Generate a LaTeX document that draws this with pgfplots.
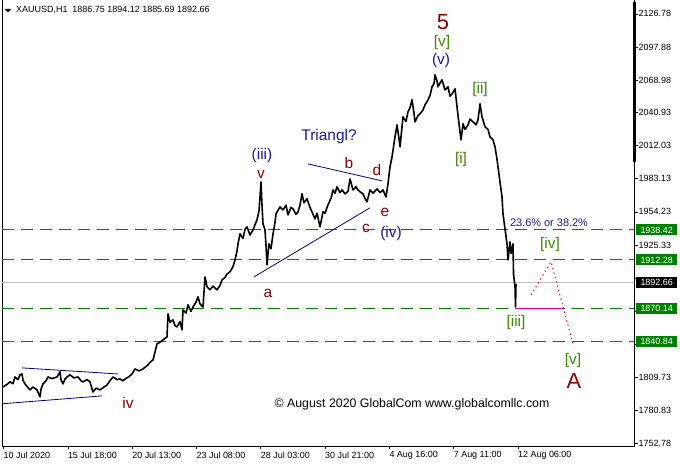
\documentclass[border=0pt]{standalone}
\usepackage{fontspec}
\setmainfont{Liberation Sans}
\usepackage{pgfplots}
\pgfplotsset{compat=1.18}

\definecolor{lvlgreen}{RGB}{0,128,0}
\definecolor{wavered}{RGB}{140,0,0}
\definecolor{wavenavy}{RGB}{25,25,150}
\definecolor{wavegreen}{RGB}{60,135,0}
\definecolor{trendblue}{RGB}{0,0,128}

\newcommand{\lab}{\fontsize{15.5}{18}\selectfont}
\newcommand{\tck}{\fontsize{9}{10}\selectfont}

% XAUUSD H1 price path (bar position, price)
\pgfplotstableread{
x y
3 1801.6
7 1803.8
10 1806.0
13 1804.5
15 1810.3
18 1808.0
20 1812.1
22 1812.9
23 1807.5
25 1804.2
28 1801.0
30 1799.0
33 1801.5
37 1799.0
40 1792.9
41 1799.5
43 1804.2
46 1807.0
48 1810.3
52 1808.8
57 1810.3
60 1814.7
61 1808.0
63 1804.2
65 1808.5
67 1810.3
70 1812.1
74 1809.5
78 1810.3
81 1807.0
83 1806.0
87 1808.0
90 1806.0
92 1800.0
93 1797.2
96 1800.5
100 1799.0
104 1801.5
107 1803.3
110 1807.0
113 1810.3
117 1808.0
120 1808.6
123 1806.9
125 1808.6
129 1810.5
132 1812.9
135 1817.3
139 1815.5
143 1817.3
148 1820.8
150 1823.0
153 1825.1
155 1832.0
157 1839.1
160 1840.5
163 1842.6
167 1845.2
168 1865.2
170 1858.0
173 1860.0
175 1855.0
177 1853.9
180 1858.5
182 1851.3
183 1868.7
186 1866.0
188 1873.1
191 1867.5
193 1871.3
196 1875.5
198 1880.1
200 1874.0
203 1871.3
205 1897.5
207 1889.0
210 1886.2
213 1889.5
217 1886.2
220 1890.0
222 1894.9
225 1897.0
227 1900.1
230 1901.9
233 1906.5
235 1912.3
237 1920.0
238 1926.3
240 1935.0
243 1931.0
245 1939.0
247 1941.1
250 1934.0
253 1938.5
255 1943.0
257 1947.2
259 1955.0
260 1967.2
261 1980.3
262 1960.0
263 1943.7
265 1938.5
266 1925.0
267 1908.0
269 1926.3
271 1922.0
273 1935.0
275 1945.0
276 1952.4
280 1958.5
283 1955.9
286 1960.0
288 1951.5
291 1958.0
293 1956.8
296 1952.0
298 1954.2
300 1960.0
302 1969.9
304 1962.0
307 1965.5
310 1958.0
312 1954.2
315 1948.1
317 1953.0
320 1941.1
323 1954.2
325 1953.0
328 1960.3
331 1966.0
333 1973.3
335 1970.5
337 1976.0
340 1971.0
342 1973.3
345 1969.9
348 1972.0
350 1982.9
353 1973.3
356 1976.0
358 1973.3
361 1971.0
363 1969.9
365 1966.0
367 1962.9
370 1973.3
373 1970.5
377 1974.2
380 1971.0
383 1973.3
386 1967.2
388 1978.6
390 1993.4
392 2002.1
395 2019.5
397 2030.0
399 2018.0
400 2010.8
403 2037.0
406 2033.0
408 2041.4
410 2045.0
412 2051.8
414 2040.0
415 2032.6
418 2038.0
420 2039.6
423 2043.0
425 2047.4
428 2051.8
430 2055.5
432 2063.1
434 2066.0
435 2073.6
437 2068.0
438 2063.1
440 2066.5
442 2069.2
445 2060.5
448 2063.1
450 2055.0
452 2057.0
455 2061.4
457 2045.7
459 2030.9
461 2016.9
463 2030.9
465 2026.0
468 2030.0
470 2035.0
473 2032.6
476 2030.0
478 2034.4
480 2048.3
482 2037.0
485 2028.3
488 2026.0
490 2019.5
493 2017.0
495 2010.8
497 2000.0
498 1993.4
500 1980.0
502 1967.2
503 1952.4
505 1939.4
507 1926.3
508 1912.3
509 1920.0
510 1928.0
511 1918.0
513 1926.3
513.5 1900.1
515 1888.8
515.5 1871.3
516 1891.4
}\price

\begin{document}
\begin{tikzpicture}[x=1bp,y=1bp]
\path[use as bounding box] (0,0) rectangle (680,470);
\begin{axis}[
  at={(2,21)}, anchor=south west,
  scale only axis, width=632bp, height=447bp,
  xmin=2, xmax=634, ymin=1750.2, ymax=2139.8,
  clip=false,
  axis line style={black, line width=0.8bp},
  tick align=outside,
  major tick length=3.5bp,
  tick style={black, line width=0.6bp},
  xtick pos=bottom, ytick pos=right,
  yticklabel pos=right,
  xtick={3.5,67.8,132.1,196.4,260.7,325,389.3,453.6,517.9},
  xticklabels={10 Jul 2020,15 Jul 18:00,20 Jul 13:00,23 Jul 08:00,28 Jul 03:00,30 Jul 21:00,4 Aug 16:00,7 Aug 11:00,12 Aug 06:00},
  xticklabel style={font=\tck, anchor=north west, inner sep=0pt, yshift=-2bp},
  ytick={1752.78,1780.83,1809.73,1838.63,1867.53,1896.43,1925.33,1954.23,1983.13,2012.03,2040.93,2068.98,2097.88,2126.78},
  yticklabels={1752.78,1780.83,1809.73,,,,1925.33,1954.23,1983.13,2012.03,2040.93,2068.98,2097.88,2126.78},
  yticklabel style={font=\tck, anchor=west, inner sep=0pt, xshift=1bp},
]
% level lines
\addplot[lightgray, line width=0.7bp, forget plot] coordinates {(2,1892.66) (634,1892.66)};
\addplot[lvlgreen, line width=1bp, dash pattern=on 12bp off 7bp] coordinates {(2,1938.42) (634,1938.42)};
\addplot[lvlgreen, line width=1bp, dash pattern=on 12bp off 7bp] coordinates {(2,1912.28) (634,1912.28)};
\addplot[lvlgreen, line width=1bp, dash pattern=on 12bp off 7bp] coordinates {(2,1870.14) (634,1870.14)};
\addplot[lvlgreen, line width=1bp, dash pattern=on 12bp off 7bp] coordinates {(2,1840.84) (634,1840.84)};
% trend lines
\addplot[trendblue, line width=0.8bp] coordinates {(22,1818.2) (118,1812.9)};
\addplot[trendblue, line width=0.8bp] coordinates {(2,1786.9) (102,1793.8)};
\addplot[trendblue, line width=0.8bp] coordinates {(308,1996.0) (382,1981.2)};
\addplot[trendblue, line width=0.8bp] coordinates {(254,1897.5) (370,1957.7)};
% price
\addplot[black, line width=1.6bp, line join=round] table[x=x,y=y] {\price};
% projection
\addplot[magenta, line width=0.9bp] coordinates {(515,1870.1) (563,1870.1)};
\addplot[red, line width=0.9bp, dash pattern=on 1.5bp off 3bp] coordinates {(531,1881.8) (551,1910.6) (573,1839.1)};
% right edge bar
\addplot[black, line width=3bp] coordinates {(634.5,2137.2) (634.5,1997.8)};

% wave labels
\node[wavered, font=\fontsize{22}{24}\selectfont] at (axis cs:443,2119.8) {5};
\node[wavegreen, font=\lab] at (axis cs:442,2101.5) {[v]};
\node[wavenavy, font=\lab] at (axis cs:441,2085.8) {(v)};
\node[wavegreen, font=\lab] at (axis cs:480,2060.5) {[ii]};
\node[wavegreen, font=\lab] at (axis cs:461,1999.5) {[i]};
\node[wavenavy, font=\lab] at (axis cs:329,2019.6) {Triangl?};
\node[wavenavy, font=\lab] at (axis cs:262,2003.0) {(iii)};
\node[wavered, font=\lab] at (axis cs:261,1986.4) {v};
\node[wavered, font=\lab] at (axis cs:349,1996.9) {b};
\node[wavered, font=\lab] at (axis cs:377,1990.8) {d};
\node[wavered, font=\lab] at (axis cs:385,1953.3) {e};
\node[wavered, font=\lab] at (axis cs:366,1939.4) {c};
\node[wavenavy, font=\lab] at (axis cs:391,1935.0) {(iv)};
\node[wavered, font=\lab] at (axis cs:268,1882.7) {a};
\node[wavered, font=\lab] at (axis cs:128,1787.7) {iv};
\node[wavenavy, font=\fontsize{11}{12}\selectfont] at (axis cs:549,1944.6) {23.6\% or 38.2\%};
\node[wavegreen, font=\lab] at (axis cs:550,1925.4) {[iv]};
\node[wavegreen, font=\lab] at (axis cs:516,1857.4) {[iii]};
\node[wavegreen, font=\lab] at (axis cs:573,1824.3) {[v]};
\node[wavered, font=\fontsize{22}{24}\selectfont] at (axis cs:574,1806.9) {A};
\node[black, font=\fontsize{12.4}{14}\selectfont] at (axis cs:412,1786.8) {© August 2020 GlobalCom www.globalcomllc.com};

\coordinate (m1) at (axis cs:634,1938.42);
\coordinate (m2) at (axis cs:634,1912.28);
\coordinate (m3) at (axis cs:634,1892.66);
\coordinate (m4) at (axis cs:634,1870.14);
\coordinate (m5) at (axis cs:634,1840.84);
\end{axis}
% price markers on the scale
\tikzset{mk/.style={anchor=west, font=\tck, text=white, inner sep=0pt, minimum height=11bp, minimum width=41bp, xshift=2bp}}
\node[mk, fill=lvlgreen] at (m1) {1938.42};
\node[mk, fill=lvlgreen] at (m2) {1912.28};
\node[mk, fill=black] at (m3) {1892.66};
\node[mk, fill=lvlgreen] at (m4) {1870.14};
\node[mk, fill=lvlgreen] at (m5) {1840.84};
% header
\fill[black] (5,461) -- (11,461) -- (8,457.5) -- cycle;
\node[anchor=west, font=\tck, inner sep=0pt] at (16,460) {XAUUSD,H1\ \ 1886.75 1894.12 1885.69 1892.66};
\end{tikzpicture}
\end{document}
